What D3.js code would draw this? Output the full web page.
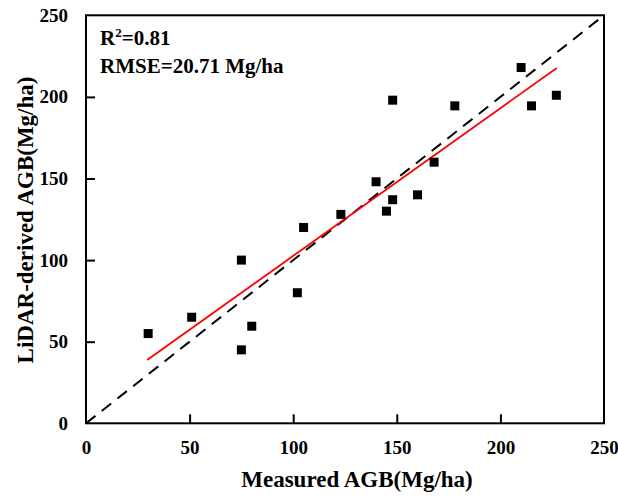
<!DOCTYPE html>
<html><head><meta charset="utf-8">
<script src="https://cdn.jsdelivr.net/npm/d3@7"></script>
<style>body{margin:0;background:#fff}svg{display:block}text{font-family:"Liberation Serif","Times New Roman",serif;font-weight:bold;fill:#000}</style>
</head><body><svg id="c" width="618" height="497"></svg>
<script>
const measured = [30, 51, 75, 75, 80, 102, 105, 123, 140, 145, 148, 148, 160, 168, 178, 210, 215, 227];
const derived  = [55, 65, 100, 45, 59.5, 80, 120, 128, 148, 130, 137, 198, 140, 160, 194.5, 218, 194.5, 201];
const fitX = [29.5, 227.2];
const fitY = [38.8, 217.7];
const oneToOne = [0, 250];
const xTicks = [0, 50, 100, 150, 200, 250];
const yTicks = [0, 50, 100, 150, 200, 250];
const xTitle = "Measured AGB(Mg/ha)";
const yTitle = "LiDAR-derived AGB(Mg/ha)";
const stats = ["0.81", "RMSE=20.71 Mg/ha"];

const svg = d3.select("#c");
const L = 86, R = 604, T = 15.3, B = 423.3;
const x = d3.scaleLinear().domain([0, 250]).range([L, R]);
const y = d3.scaleLinear().domain([0, 250]).range([B, T]);

// 1:1 dashed line
svg.append("line").attr("x1", x(oneToOne[0])).attr("y1", y(oneToOne[0]))
  .attr("x2", x(oneToOne[1])).attr("y2", y(oneToOne[1]))
  .attr("stroke", "#000").attr("stroke-width", 2).attr("stroke-dasharray", "12,8");

// fit line
svg.append("line").attr("x1", x(fitX[0])).attr("y1", y(fitY[0]))
  .attr("x2", x(fitX[1])).attr("y2", y(fitY[1]))
  .attr("stroke", "#ff0000").attr("stroke-width", 1.8);

// points
const s = 9;
svg.append("g").selectAll("rect").data(measured).join("rect")
  .attr("x", (d) => x(d) - s / 2).attr("y", (d, i) => y(derived[i]) - s / 2)
  .attr("width", s).attr("height", s).attr("fill", "#000");

// frame
svg.append("rect").attr("x", L).attr("y", T).attr("width", R - L).attr("height", B - T)
  .attr("fill", "none").attr("stroke", "#000").attr("stroke-width", 2);

// axes
const xAxis = d3.axisBottom(x).tickValues(xTicks).tickSizeInner(-9).tickSizeOuter(0).tickPadding(17);
const gx = svg.append("g").attr("transform", `translate(0,${B})`).call(xAxis);
gx.select(".domain").remove();
gx.selectAll(".tick line").attr("stroke-width", 2).filter((d) => d === 0 || d === 250).remove();
gx.selectAll(".tick text").attr("font-size", 19).attr("font-family", "Liberation Serif").attr("font-weight", "bold");

const yAxis = d3.axisLeft(y).tickValues(yTicks).tickSizeInner(-9).tickSizeOuter(0).tickPadding(18);
const gy = svg.append("g").attr("transform", `translate(${L},0)`).call(yAxis);
gy.select(".domain").remove();
gy.selectAll(".tick line").attr("stroke-width", 2).filter((d) => d === 0 || d === 250).remove();
gy.selectAll(".tick text").attr("font-size", 19).attr("font-family", "Liberation Serif").attr("font-weight", "bold");

// titles
svg.append("text").attr("x", 357).attr("y", 487).attr("text-anchor", "middle")
  .attr("font-size", 23).text(xTitle);
svg.append("text").attr("transform", "translate(33,220) rotate(-90)").attr("text-anchor", "middle")
  .attr("font-size", 23).text(yTitle);

// stats
const t1 = svg.append("text").attr("x", 100).attr("y", 45).attr("font-size", 21);
t1.append("tspan").text("R");
t1.append("tspan").attr("font-size", 13).attr("dy", -8).text("2");
t1.append("tspan").attr("dy", 8).text("=" + stats[0]);
svg.append("text").attr("x", 100).attr("y", 73).attr("font-size", 21).text(stats[1]);
</script></body></html>
